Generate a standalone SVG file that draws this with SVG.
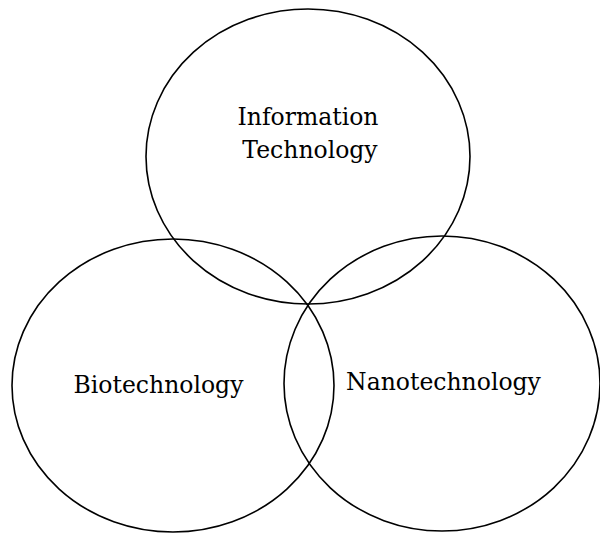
<svg xmlns="http://www.w3.org/2000/svg" width="600" height="536" viewBox="0 0 600 536">
  <style>
    .ring { fill: none; stroke: #000; stroke-width: 1.6; }
    .label { font-family: "DejaVu Serif", "Liberation Serif", serif; font-size: 23.5px; fill: #000; text-anchor: middle; }
  </style>
  <rect width="600" height="536" fill="#fff"/>
  <g id="information-technology">
    <ellipse class="ring" cx="308" cy="156.5" rx="162" ry="147.5"/>
    <text class="label" x="308" y="125">Information</text>
    <text class="label" x="310" y="158">Technology</text>
  </g>
  <g id="biotechnology">
    <ellipse class="ring" cx="173" cy="385.5" rx="161" ry="146.5"/>
    <text class="label" x="158.5" y="393">Biotechnology</text>
  </g>
  <g id="nanotechnology">
    <ellipse class="ring" cx="442" cy="383.5" rx="158" ry="147.5"/>
    <text class="label" x="443.5" y="390">Nanotechnology</text>
  </g>
  <g id="connectors"/>
</svg>
